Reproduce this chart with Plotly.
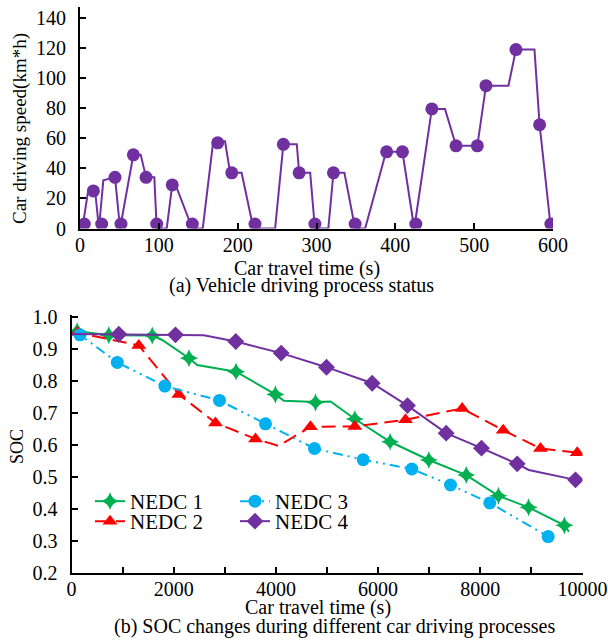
import plotly.graph_objects as go

# ---- (a) vehicle speed profile ----
speed_path_t = [3, 10.6, 19, 24, 29.6, 36, 44.4, 50.8, 67.7, 77, 83.8, 94.3, 97.3, 110,
                117, 122, 142.5, 155.7, 169, 184, 190.4, 205, 220, 247.5, 258, 275, 278,
                292, 298, 315, 321.5, 335.4, 349, 361.7, 388.3, 409, 424, 446.3, 463, 477,
                504, 515, 543.5, 553, 576.5, 583, 597.3]
speed_path_v = [0, 26, 26, 0, 32, 33, 34, 0, 49, 49, 34, 34, 0, 0,
                29, 28, 0, 0, 58, 58, 37, 37, 0, 0, 56, 56, 37,
                37, 0, 0, 37, 37, 0, 0, 51, 51, 0, 79.5, 79.5, 55,
                55, 95, 95, 119, 119, 69, 0]
speed_pts_t = [5.5, 17, 27.5, 44.4, 52, 67.7, 83.8, 97.3, 117, 142.5, 174.7, 192.5, 222,
               258, 278, 298, 321.5, 349, 389, 409, 426, 446.3, 477, 504, 515, 553, 583, 597.3]
speed_pts_v = [3, 25, 3, 34, 3, 49, 34, 3, 29, 3, 57, 37, 3,
               56, 37, 3, 37, 3, 51, 51, 3, 79.5, 55, 55, 95, 119, 69, 3]
speed_ticks = [0, 100, 200, 300, 400, 500, 600]
speed_yticks = [0, 20, 40, 60, 80, 100, 120, 140]

# ---- (b) SOC under four NEDC processes ----
nedc1_path_t = [0, 110, 730, 1580, 1775, 2300, 2460, 3220, 3990, 4155, 4775, 5070, 5545,
                6235, 6993, 7725, 8355, 8945, 9645, 9735]
nedc1_path_soc = [0.95, 0.955, 0.942, 0.941, 0.927, 0.870, 0.849, 0.828, 0.757, 0.737, 0.733,
                  0.735, 0.680, 0.609, 0.552, 0.505, 0.440, 0.404, 0.348, 0.328]
nedc1_t = [110, 730, 1580, 2300, 3220, 3990, 4775, 5545, 6235, 6993, 7725, 8355, 8945, 9645]
nedc1_soc = [0.955, 0.942, 0.941, 0.870, 0.828, 0.757, 0.732, 0.680, 0.609, 0.552, 0.505,
             0.440, 0.404, 0.348]

nedc2_path_t = [0, 120, 1317, 2100, 2818, 3601, 4057, 4677, 5544, 6536, 7645, 8448, 9178, 9896]
nedc2_path_soc = [0.948, 0.950, 0.910, 0.757, 0.668, 0.618, 0.596, 0.656, 0.657, 0.678,
                  0.713, 0.645, 0.588, 0.575]
nedc2_t = [120, 1317, 2100, 2818, 3601, 4677, 5544, 6536, 7645, 8448, 9178, 9896]
nedc2_soc = [0.950, 0.910, 0.757, 0.668, 0.618, 0.656, 0.657, 0.678, 0.713, 0.645, 0.588, 0.575]

nedc3_path_t = [0, 166, 896, 1826, 2896, 3796, 4755, 5708, 6660, 7417, 8186, 9328, 9438]
nedc3_path_soc = [0.945, 0.943, 0.857, 0.783, 0.738, 0.665, 0.588, 0.553, 0.524, 0.474,
                  0.418, 0.313, 0.307]
nedc3_t = [166, 896, 1826, 2896, 3796, 4755, 5708, 6660, 7417, 8186, 9328]
nedc3_soc = [0.943, 0.857, 0.783, 0.738, 0.665, 0.588, 0.553, 0.524, 0.474, 0.418, 0.313]

nedc4_path_t = [0, 926, 2035, 2590, 3215, 4103, 4990, 5884, 6575, 7332, 8023, 8722, 8949, 9863]
nedc4_path_soc = [0.946, 0.945, 0.943, 0.942, 0.922, 0.886, 0.842, 0.792, 0.722, 0.636,
                  0.589, 0.540, 0.521, 0.490]
nedc4_t = [926, 2035, 3215, 4103, 4990, 5884, 6575, 7332, 8023, 8722, 9863]
nedc4_soc = [0.945, 0.943, 0.922, 0.886, 0.842, 0.792, 0.722, 0.636, 0.589, 0.540, 0.490]

soc_xticks = [0, 2000, 4000, 6000, 8000, 10000]
soc_yticks = [0.2, 0.3, 0.4, 0.5, 0.6, 0.7, 0.8, 0.9, 1.0]

W, H = 608, 642
FONT = "Liberation Serif"
FS = 20
PURPLE = "#7030A0"

fig = go.Figure()

fig.add_trace(go.Scatter(x=speed_path_t, y=speed_path_v, mode="lines",
                         line=dict(color=PURPLE, width=2), showlegend=False,
                         xaxis="x", yaxis="y"))
fig.add_trace(go.Scatter(x=speed_pts_t, y=speed_pts_v, mode="markers",
                         marker=dict(color=PURPLE, size=13, symbol="circle"),
                         showlegend=False, xaxis="x", yaxis="y"))

series = [
    ("NEDC 1", nedc1_path_t, nedc1_path_soc, nedc1_t, nedc1_soc, "#00B050", "solid",
     "star-diamond", 13, "legend"),
    ("NEDC 2", nedc2_path_t, nedc2_path_soc, nedc2_t, nedc2_soc, "#FF0000", "14px,7px",
     "triangle-up", 13, "legend2"),
    ("NEDC 3", nedc3_path_t, nedc3_path_soc, nedc3_t, nedc3_soc, "#00B0F0",
     "10px,5px,2px,5px,2px,5px", "circle", 13, "legend"),
    ("NEDC 4", nedc4_path_t, nedc4_path_soc, nedc4_t, nedc4_soc, PURPLE, "solid",
     "diamond", 13, "legend2"),
]
for name, pt, ps, mt, ms, color, dash, sym, size, leg in series:
    fig.add_trace(go.Scatter(x=pt, y=ps, mode="lines",
                             line=dict(color=color, width=2, dash=dash),
                             showlegend=False, xaxis="x2", yaxis="y2"))
    fig.add_trace(go.Scatter(x=mt, y=ms, mode="markers",
                             marker=dict(color=color, size=size, symbol=sym),
                             showlegend=False, xaxis="x2", yaxis="y2"))
    # legend key: line style plus marker
    fig.add_trace(go.Scatter(x=[None], y=[None], mode="lines+markers", name=name,
                             line=dict(color=color, width=2, dash=dash),
                             marker=dict(color=color, size=size, symbol=sym),
                             legend=leg, xaxis="x2", yaxis="y2"))

tickfont = dict(family=FONT, size=FS, color="black")
axis_common = dict(showline=True, linecolor="black", linewidth=2, ticks="inside",
                   tickcolor="black", ticklen=6, tickwidth=1.5, showgrid=False,
                   zeroline=False, tickfont=tickfont, mirror=False, automargin=False,
                   ticklabeloverflow="allow")

legend_common = dict(orientation="h", xanchor="left", yanchor="top", entrywidth=100,
                     font=dict(family=FONT, size=21), bgcolor="rgba(0,0,0,0)",
                     traceorder="normal", itemwidth=30)

fig.update_layout(
    width=W, height=H, margin=dict(l=0, r=0, t=0, b=0, pad=0, autoexpand=False),
    paper_bgcolor="white", plot_bgcolor="white",
    font=dict(family=FONT, size=FS, color="black"),
    xaxis=dict(domain=[80 / W, 553 / W], range=[0, 600], tickvals=speed_ticks,
               anchor="y", ticklabelstandoff=-3, **axis_common),
    yaxis=dict(domain=[1 - 228.5 / H, 1 - 7 / H], range=[0, 147.3], tickvals=speed_yticks,
               anchor="x", ticklabelstandoff=8, **axis_common),
    xaxis2=dict(domain=[71.5 / W, 582.5 / W], range=[0, 10000], tickvals=soc_xticks,
                ticktext=[str(v) for v in soc_xticks],
                minor=dict(dtick=1000, ticks="inside", ticklen=6, tickcolor="black",
                           tickwidth=1.5),
                anchor="y2", ticklabelstandoff=-3, **axis_common),
    yaxis2=dict(domain=[1 - 572.7 / H, 1 - 315 / H], range=[0.2, 1.005],
                tickvals=soc_yticks, ticktext=[f"{v:.1f}" for v in soc_yticks],
                anchor="x2", ticklabelstandoff=8, **axis_common),
    legend=dict(x=90 / W, y=1 - 481 / H, **legend_common),
    legend2=dict(x=90 / W, y=1 - 501 / H, **legend_common),
)

def label(text, x, y, angle=0, size=FS):
    fig.add_annotation(text=text, x=x / W, y=1 - y / H, xref="paper", yref="paper",
                       showarrow=False, textangle=angle, xanchor="center", yanchor="middle",
                       font=dict(family=FONT, size=size, color="black"))

label("Car driving speed(km*h)", 20, 129, -90, 19)
label("Car travel time (s)", 307, 268)
label("(a) Vehicle driving process status", 301, 286)
label("SOC", 17, 447, -90, 18)
label("Car travel time (s)", 318, 607)
label("(b) SOC changes during different car driving processes", 334, 626)

fig.write_html("out.html")
